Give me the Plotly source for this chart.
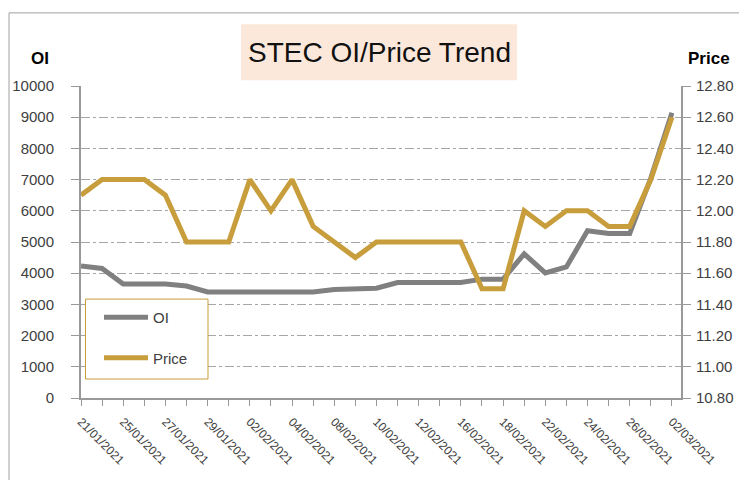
import plotly.graph_objects as go

dates = ["21/01/2021", "22/01/2021", "25/01/2021", "26/01/2021", "27/01/2021", "28/01/2021",
         "29/01/2021", "01/02/2021", "02/02/2021", "03/02/2021", "04/02/2021", "05/02/2021",
         "08/02/2021", "09/02/2021", "10/02/2021", "11/02/2021", "12/02/2021", "15/02/2021",
         "16/02/2021", "17/02/2021", "18/02/2021", "19/02/2021", "22/02/2021", "23/02/2021",
         "24/02/2021", "25/02/2021", "26/02/2021", "01/03/2021", "02/03/2021"]
oi = [4230, 4150, 3650, 3650, 3650, 3590, 3400, 3400, 3400, 3400, 3400, 3400,
      3480, 3520, 3520, 3700, 3700, 3700, 3700, 3810, 3810, 4620, 4010, 4200,
      5360, 5270, 5270, 7050, 9140]
price = [12.10, 12.20, 12.20, 12.20, 12.10, 11.80, 11.80, 11.80, 12.20, 12.00, 12.20, 11.90,
         11.80, 11.70, 11.80, 11.80, 11.80, 11.80, 11.80, 11.50, 11.50, 12.00, 11.90, 12.00,
         12.00, 11.90, 11.90, 12.20, 12.60]
tick_text = [d if i % 2 == 0 else "" for i, d in enumerate(dates)]

GRAY = "#808080"
GOLD = "#C89D3C"
FONT = "Liberation Sans, Arial, sans-serif"

fig = go.Figure()
fig.add_trace(go.Scatter(x=dates, y=oi, name="OI", mode="lines", legendgroup="a",
                         line=dict(color=GRAY, width=5)))
fig.add_trace(go.Scatter(x=dates, y=price, name="Price", mode="lines", legendgroup="b",
                         yaxis="y2", line=dict(color=GOLD, width=5)))

OFF = 8  # page body margin
L, R, T, B = 81, 681, 85.7, 398  # plot area in screen pixels
W, H = 747, 480
pw, ph = R - L, B - T


def px(x):
    return (x - L) / pw


def py(y):
    return (B - y) / ph


fig.update_layout(
    width=W, height=H,
    margin=dict(l=L - OFF, r=W - (R - OFF), t=T - OFF, b=H - (B - OFF), pad=0, autoexpand=False),
    paper_bgcolor="white", plot_bgcolor="white",
    font=dict(family=FONT, color="#404040"),
    showlegend=True,
    legend=dict(x=px(99), y=py(301), xanchor="left", yanchor="top",
                borderwidth=0, bgcolor="rgba(0,0,0,0)",
                font=dict(size=15, color="#404040"), tracegroupgap=18,
                itemwidth=44),
    xaxis=dict(type="category", tickmode="array", tickvals=dates, ticktext=tick_text,
               range=[0, 28.43], tickangle=45, tickfont=dict(size=12, color="#404040"),
               ticks="outside", ticklen=6, tickcolor="#999999", tickwidth=1,
               showline=True, linecolor="#999999", linewidth=2, showgrid=False,
               ticklabelstandoff=4, automargin=False),
    yaxis=dict(range=[0, 10000], dtick=1000, tickformat="d", tickfont=dict(size=15, color="#404040"),
               ticks="outside", ticklen=8, tickcolor="#999999", tickwidth=1,
               showline=True, linecolor="#999999", linewidth=2,
               showgrid=True, gridcolor="#a6a6a6", griddash="dashdot", gridwidth=1,
               zeroline=False, ticklabelstandoff=14, automargin=False),
    yaxis2=dict(range=[10.8, 12.8], dtick=0.2, tickformat=".2f", overlaying="y", side="right",
                tickfont=dict(size=15, color="#404040"),
                ticks="outside", ticklen=8, tickcolor="#999999", tickwidth=1,
                showline=True, linecolor="#999999", linewidth=2, showgrid=False,
                zeroline=False, ticklabelstandoff=2, automargin=False),
    shapes=[
        dict(type="rect", xref="paper", yref="paper", x0=px(9), x1=px(770), y0=py(500), y1=py(12.5),
             line=dict(color="#a0a0a0", width=1), fillcolor="rgba(0,0,0,0)", layer="below"),
        dict(type="rect", xref="paper", yref="paper", x0=px(241), x1=px(517), y0=py(80), y1=py(24),
             line=dict(width=0), fillcolor="#FCE8DA", layer="below"),
        dict(type="rect", xref="paper", yref="paper", x0=px(85.5), x1=px(208), y0=py(379), y1=py(299),
             line=dict(color=GOLD, width=1), fillcolor="white", layer="above"),
    ],
    annotations=[
        dict(text="STEC OI/Price Trend", xref="paper", yref="paper", x=px(379), y=py(52),
             xanchor="center", yanchor="middle", showarrow=False,
             font=dict(size=28, color="#111111", family=FONT)),
        dict(text="<b>OI</b>", xref="paper", yref="paper", x=px(40), y=py(58),
             xanchor="center", yanchor="middle", showarrow=False,
             font=dict(size=17, color="#000000", family=FONT)),
        dict(text="<b>Price</b>", xref="paper", yref="paper", x=px(709), y=py(58),
             xanchor="center", yanchor="middle", showarrow=False,
             font=dict(size=17, color="#000000", family=FONT)),
    ],
)

fig.write_html("out.html")
